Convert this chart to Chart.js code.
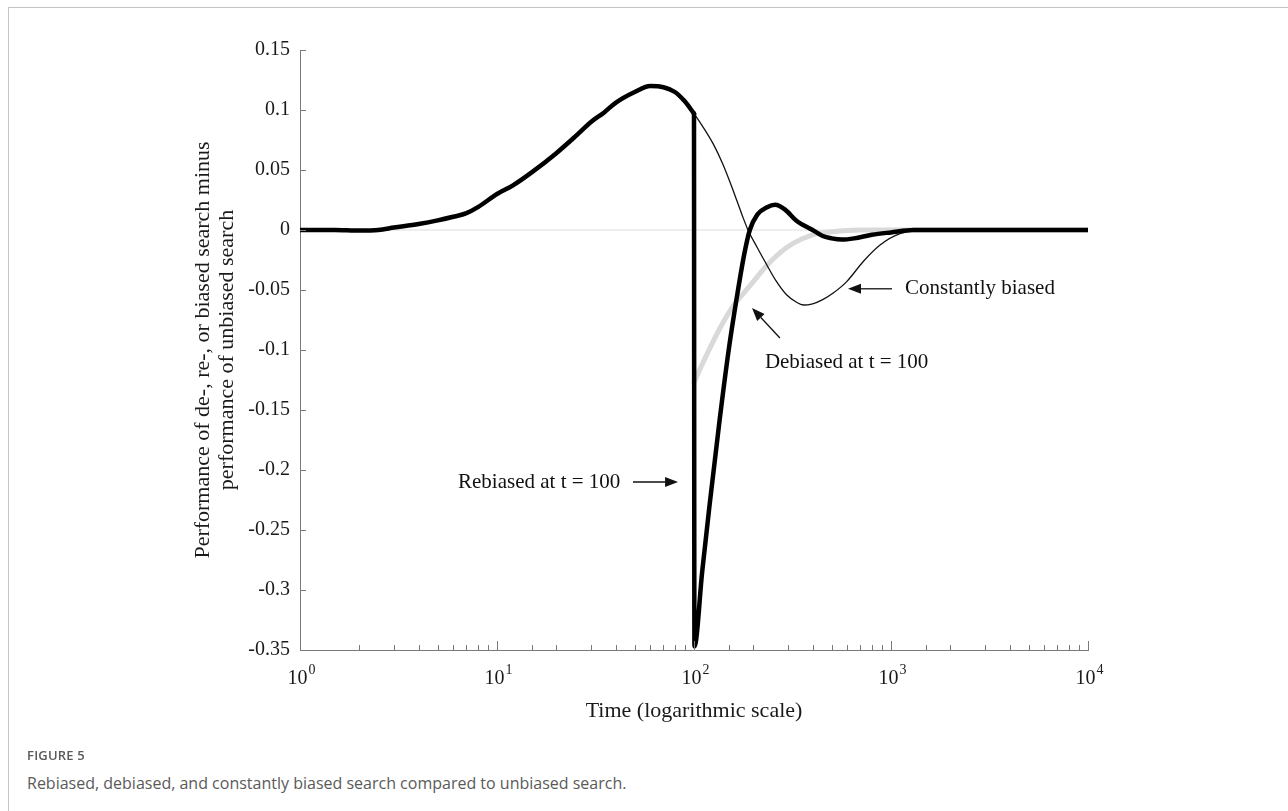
<!DOCTYPE html>
<html>
<head>
<meta charset="utf-8">
<script src="https://cdn.jsdelivr.net/npm/chart.js@4.4.0/dist/chart.umd.min.js"></script>
<style>
  html, body { margin:0; padding:0; background:#fff; }
  body { width:1288px; height:811px; position:relative; overflow:hidden; }
  #frame { position:absolute; left:8px; top:7px; width:1280px; height:804px;
           border-top:1px solid #c4c4c4; border-left:1px solid #c4c4c4; box-sizing:border-box; }
  #c { position:absolute; left:0; top:0; }
  #figlabel { position:absolute; left:27px; top:746px; font-family:"Open Sans", sans-serif;
              font-size:13px; font-weight:600; color:#5a5a5a; letter-spacing:0.2px; }
  #figcap { position:absolute; left:27px; top:772px; font-family:"Open Sans", sans-serif;
            font-size:16px; color:#5a5a5a; }
</style>
</head>
<body>
<div id="frame"></div>
<canvas id="c" width="1288" height="760"></canvas>
<div id="figlabel">FIGURE 5</div>
<div id="figcap">Rebiased, debiased, and constantly biased search compared to unbiased search.</div>
<script>
// ---- data (time, performance difference) ----
// constantly biased search (thin black)
const tBiased = [1,1.5,2,2.5,3,4,5,6,7,8,10,12,15,20,25,30,35,40,50,60,70,80,90,100,
                 110,125,140,158,175,188,210,234,260,295,330,359,400,450,509,596,725,880,1111,1585,3000,10000];
const vBiased = [0,0,-0.0005,0,0.002,0.005,0.008,0.011,0.014,0.019,0.030,0.037,0.048,0.064,0.078,0.090,0.098,0.106,0.115,0.120,0.119,0.115,0.107,0.097,
                 0.087,0.072,0.055,0.033,0.013,0,-0.015,-0.029,-0.042,-0.054,-0.060,-0.0625,-0.0615,-0.058,-0.0525,-0.043,-0.026,-0.0125,-0.003,0,0,0];

// rebiased at t = 100 (thick black): before the switch, and from the switch on
const tRebiasedBefore = [1,1.5,2,2.5,3,4,5,6,7,8,10,12,15,20,25,30,35,40,50,60,70,80,90,100];
const vRebiasedBefore = [0,0,-0.0005,0,0.002,0.005,0.008,0.011,0.014,0.019,0.030,0.037,0.048,0.064,0.078,0.090,0.098,0.106,0.115,0.120,0.119,0.115,0.107,0.097];
const tRebiasedAfter = [100,100.5,110,120,135,150,165,180,192,210,235,258,290,330,400,450,500,564,650,800,1000,1300,10000];
const vRebiasedAfter = [0.097,-0.347,-0.285,-0.229,-0.158,-0.100,-0.056,-0.020,0,0.013,0.019,0.021,0.017,0.008,0,-0.005,-0.007,-0.008,-0.007,-0.004,-0.002,0,0];

// debiased at t = 100 (light grey)
const tDebiased = [100,110,125,140,160,180,200,230,273,320,400,500,700,10000];
const vDebiased = [-0.127,-0.112,-0.093,-0.0775,-0.062,-0.052,-0.043,-0.031,-0.019,-0.011,-0.004,-0.0015,0,0];

// unbiased reference (zero line)
const tBaseline = [1,10000];
const vBaseline = [0,0];

const yTickValues = [0.15,0.1,0.05,0,-0.05,-0.1,-0.15,-0.2,-0.25,-0.3,-0.35];
const xTickValues = [1,10,100,1000,10000];
const xTickBase = '10';
const xTickExponents = ['0','1','2','3','4'];

// annotations: [text, t, v] and arrows [t0, v0, t1, v1] (tail -> head)
const noteTexts = [
  ['Constantly biased', 1178, -0.049],
  ['Debiased at t = 100', 229, -0.110],
  ['Rebiased at t = 100', 6.34, -0.210]
];
const noteArrows = [
  [1012, -0.049, 605, -0.049],
  [273, -0.090, 197, -0.065],
  [49, -0.210, 83, -0.210]
];

const zip = (ts, vs) => ts.map((t, i) => ({x: t, y: vs[i]}));
const SERIF = '"Liberation Serif", "Times New Roman", serif';

const decor = {
  id: 'decor',
  afterDraw(chart) {
    const ctx = chart.ctx, xs = chart.scales.x, ys = chart.scales.y;
    const area = chart.chartArea;
    ctx.save();
    ctx.strokeStyle = '#7a7a7a';
    ctx.lineWidth = 1;
    ctx.beginPath();
    ys.ticks.forEach(tk => {
      const py = Math.round(ys.getPixelForValue(tk.value)) + 0.5;
      ctx.moveTo(area.left, py); ctx.lineTo(area.left + 6, py);
    });
    xs.ticks.forEach(tk => {
      const px = Math.round(xs.getPixelForValue(tk.value)) + 0.5;
      const lg = Math.log10(tk.value);
      const major = Math.abs(lg - Math.round(lg)) < 1e-9;
      ctx.moveTo(px, area.bottom); ctx.lineTo(px, area.bottom - (major ? 9 : 5));
    });
    ctx.stroke();
    // x tick labels: base with superscript exponent
    ctx.fillStyle = '#1a1a1a';
    ctx.textBaseline = 'alphabetic';
    ctx.textAlign = 'left';
    xTickValues.forEach((v, i) => {
      const px = xs.getPixelForValue(v);
      ctx.font = '20px ' + SERIF;
      const wb = ctx.measureText(xTickBase).width;
      ctx.font = '14px ' + SERIF;
      const we = ctx.measureText(xTickExponents[i]).width;
      const x0 = px - (wb + we) / 2 + 1;
      const base = area.bottom + 34;
      ctx.font = '20px ' + SERIF;
      ctx.fillText(xTickBase, x0, base);
      ctx.font = '14px ' + SERIF;
      ctx.fillText(xTickExponents[i], x0 + wb + 1, base - 10);
    });
    ctx.restore();
  },
  afterDatasetsDraw(chart) {
    const ctx = chart.ctx, xs = chart.scales.x, ys = chart.scales.y;
    ctx.save();
    ctx.fillStyle = '#111';
    ctx.font = '21px ' + SERIF;
    ctx.textBaseline = 'middle';
    ctx.textAlign = 'left';
    noteTexts.forEach(([s, t, v]) => ctx.fillText(s, xs.getPixelForValue(t), ys.getPixelForValue(v)));
    ctx.strokeStyle = '#111';
    ctx.lineWidth = 1.3;
    noteArrows.forEach(([t0, v0, t1, v1]) => {
      const x0 = xs.getPixelForValue(t0), y0 = ys.getPixelForValue(v0);
      const x1 = xs.getPixelForValue(t1), y1 = ys.getPixelForValue(v1);
      const ang = Math.atan2(y1 - y0, x1 - x0);
      const L = 13, W = 5;
      const bx = x1 - L * Math.cos(ang), by = y1 - L * Math.sin(ang);
      ctx.beginPath(); ctx.moveTo(x0, y0); ctx.lineTo(bx, by); ctx.stroke();
      ctx.beginPath();
      ctx.moveTo(x1, y1);
      ctx.lineTo(bx + W * Math.sin(ang), by - W * Math.cos(ang));
      ctx.lineTo(bx - W * Math.sin(ang), by + W * Math.cos(ang));
      ctx.closePath(); ctx.fill();
    });
    ctx.restore();
  }
};

const thick = { borderColor: '#000', borderWidth: 4.5, pointRadius: 0, fill: false,
                borderCapStyle: 'round', borderJoinStyle: 'round' };

new Chart(document.getElementById('c'), {
  type: 'line',
  data: {
    datasets: [
      Object.assign({ label: 'Rebiased at t = 100', data: zip(tRebiasedBefore, vRebiasedBefore),
        cubicInterpolationMode: 'monotone', order: 0 }, thick),
      Object.assign({ label: 'Rebiased at t = 100 (after switch)', data: zip(tRebiasedAfter, vRebiasedAfter),
        cubicInterpolationMode: 'monotone', order: 0 }, thick),
      { label: 'Constantly biased', data: zip(tBiased, vBiased), borderColor: '#111', borderWidth: 1.3,
        pointRadius: 0, cubicInterpolationMode: 'monotone', fill: false, order: 1 },
      { label: 'Debiased at t = 100', data: zip(tDebiased, vDebiased), borderColor: '#d9d9d9', borderWidth: 5,
        pointRadius: 0, cubicInterpolationMode: 'monotone', fill: false, order: 2, borderCapStyle: 'round' },
      { label: 'Unbiased', data: zip(tBaseline, vBaseline), borderColor: '#dcdcdc', borderWidth: 1,
        pointRadius: 0, tension: 0, fill: false, order: 3 }
    ]
  },
  options: {
    responsive: false,
    animation: false,
    layout: { padding: { left: 187, right: 200, top: 50, bottom: 36 } },
    plugins: { legend: { display: false }, tooltip: { enabled: false } },
    scales: {
      x: {
        type: 'logarithmic', min: 1, max: 10000,
        grid: { display: false, drawTicks: false },
        border: { display: true, color: '#7a7a7a', width: 1 },
        ticks: { display: false, autoSkip: false },
        title: { display: true, text: 'Time (logarithmic scale)', color: '#1a1a1a',
                 font: { family: SERIF, size: 22 }, padding: { top: 6, bottom: 0 } },
        afterFit: (s) => { s.height = 74; }
      },
      y: {
        min: -0.35, max: 0.15,
        afterBuildTicks: (s) => { s.ticks = yTickValues.map(v => ({ value: v })); },
        grid: { display: false, drawTicks: false },
        border: { display: true, color: '#7a7a7a', width: 1 },
        ticks: {
          padding: 10, color: '#1a1a1a',
          font: { family: SERIF, size: 20 },
          callback: (v) => String(Math.round(v * 100) / 100)
        },
        title: { display: true, text: ['Performance of de-, re-, or biased search minus', 'performance of unbiased search'],
                 color: '#1a1a1a', font: { family: SERIF, size: 22, lineHeight: 1.1 }, padding: { top: 4, bottom: 4 } },
        afterFit: (s) => { s.width = 113; }
      }
    }
  },
  plugins: [decor]
});
</script>
</body>
</html>
